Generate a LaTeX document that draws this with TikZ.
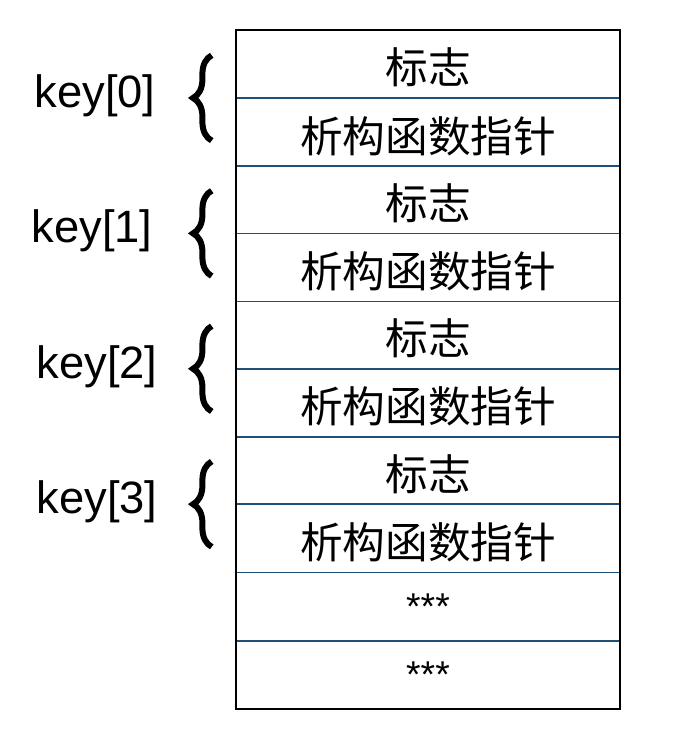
\documentclass[tikz,border=0pt]{standalone}
\usepackage{fontspec}
\setmainfont{Liberation Sans}
\newfontfamily\cjk{Noto Sans CJK SC}
\usetikzlibrary{decorations.pathreplacing, positioning}
\definecolor{rowline}{RGB}{31,78,121}

\begin{document}
\begin{tikzpicture}[x=0.75pt, y=-0.75pt,
    cell/.style={minimum width=288pt, minimum height=50.775pt, inner sep=0pt,
        text height=33pt, text depth=3pt, font=\cjk\fontsize{32}{36}\selectfont},
    stars/.style={cell, text height=, text depth=, font=\fontsize{28}{32}\selectfont},
    keylabel/.style={font=\fontsize{34}{40}\selectfont},
    keybrace/.style={decorate, decoration={brace, amplitude=14pt, aspect=0.5},
        line width=4.5pt}]
\useasboundingbox (0,0) rectangle (676,750);

% table rows
\foreach \i in {0,...,3} {
    \node[cell] (flag\i) at (428, {30+67.7*(2*\i+0.5)}) {标志};
    \node[cell, below=0pt of flag\i] (dtor\i) {析构函数指针};
}
\node[stars, below=0pt of dtor3] (more0) {***};
\node[stars, below=0pt of more0] (more1) {***};

% row separators
\foreach \n in {flag0,dtor0,flag1,dtor1,flag2,dtor2,flag3,dtor3,more0}
    \draw[rowline, line width=1.3pt] (\n.south west) -- (\n.south east);
\draw[line width=1.5pt] (flag0.north west) rectangle (more1.south east);

% braces and keys
\foreach \i/\kx in {0/95, 1/92, 2/97, 3/97} {
    \draw[keybrace] ([xshift=-18pt, yshift=-32pt]flag\i.south west)
        -- ([xshift=-18pt, yshift=32pt]flag\i.south west);
    \node[keylabel] (key\i) at (\kx, {30+67.7*(2*\i+1)-2}) {key[\i]};
}
\end{tikzpicture}
\end{document}
